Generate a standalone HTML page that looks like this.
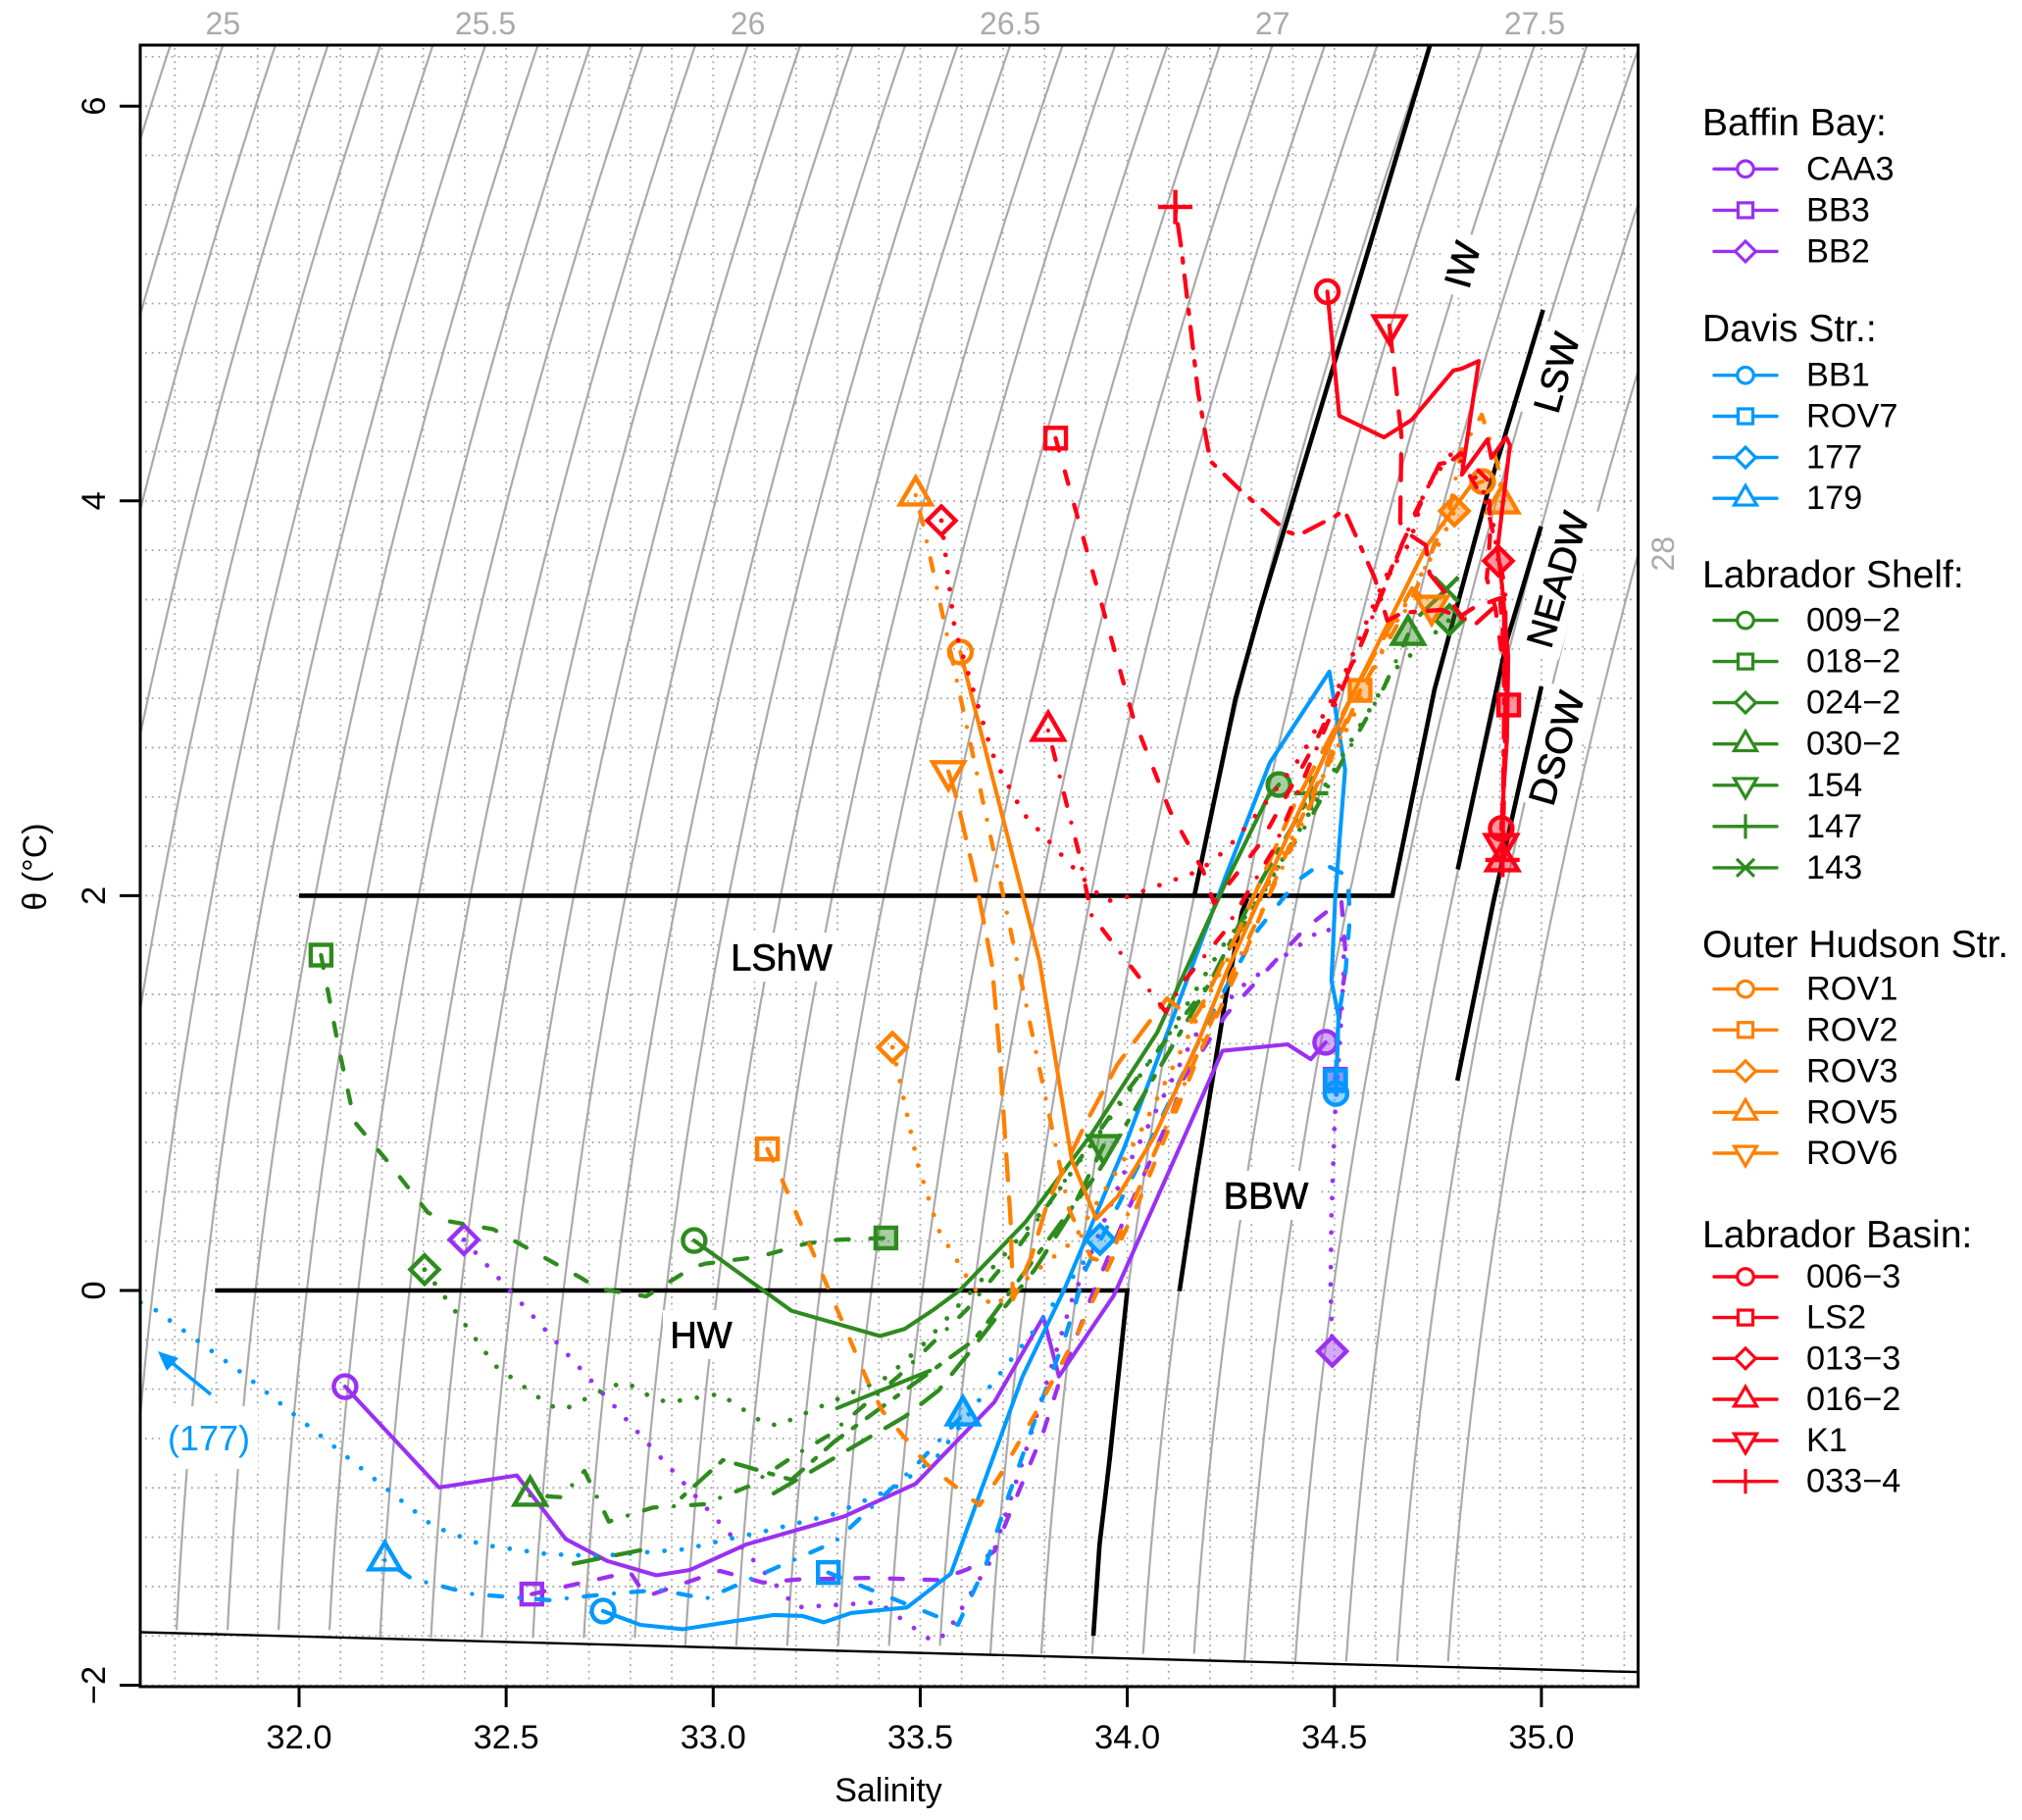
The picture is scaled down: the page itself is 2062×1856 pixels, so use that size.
<!DOCTYPE html>
<html lang="en">
<head>
<meta charset="utf-8">
<title>Theta-salinity diagram</title>
<style>
html,body{margin:0;padding:0;background:#fff;}
svg{display:block;font-family:"Liberation Sans",sans-serif;}
</style>
</head>
<body>
<svg id="chart" xmlns="http://www.w3.org/2000/svg" width="2062" height="1856" viewBox="0 0 2062 1856">
  <defs><clipPath id="plot-clip"><rect x="143" y="46" width="1527.5" height="1674"/></clipPath></defs>
  <rect x="0" y="0" width="2062" height="1856" fill="#fff"/>
  <g id="grid" clip-path="url(#plot-clip)"></g>
  <g id="iso" clip-path="url(#plot-clip)"></g>

  <g font-size="38" fill="#000" stroke="#000" stroke-width="0.7" text-anchor="middle">
    <g transform="translate(797,976)"><rect x="-60" y="-25" width="120" height="50" fill="#fff" stroke="none"/><text y="13.5">LShW</text></g>
    <g transform="translate(715,1361)"><rect x="-39" y="-25" width="78" height="50" fill="#fff" stroke="none"/><text y="13.5">HW</text></g>
    <g transform="translate(1291,1219)"><rect x="-52" y="-25" width="104" height="50" fill="#fff" stroke="none"/><text y="13.5">BBW</text></g>
    <g transform="translate(1491,270) rotate(-74)"><rect x="-32" y="-24" width="64" height="48" fill="#fff" stroke="none"/><text y="13.5">IW</text></g>
    <g transform="translate(1587,380) rotate(-74)"><rect x="-48" y="-24" width="96" height="48" fill="#fff" stroke="none"/><text y="13.5">LSW</text></g>
    <g transform="translate(1588,591) rotate(-74)"><rect x="-78" y="-24" width="156" height="48" fill="#fff" stroke="none"/><text y="13.5">NEADW</text></g>
    <g transform="translate(1587,763) rotate(-74)"><rect x="-62" y="-24" width="124" height="48" fill="#fff" stroke="none"/><text y="13.5">DSOW</text></g>
    <g transform="translate(213,1466)"><rect x="-50" y="-32" width="100" height="64" fill="#fff" stroke="none"/><text y="13" font-size="36" fill="#0099ff" stroke="none">(177)</text></g>
  </g>

  <g id="masses" clip-path="url(#plot-clip)"></g>
  <g id="series" clip-path="url(#plot-clip)"></g>

  <g>
    <line x1="215" y1="1422" x2="172" y2="1387" stroke="#0099ff" stroke-width="3.6"/>
    <polygon points="161,1378 182,1385 170,1398" fill="#0099ff"/>
  </g>

  <rect x="143" y="46" width="1527.5" height="1674" fill="none" stroke="#000" stroke-width="3"/>
  <g id="axes"></g>

  <text x="906" y="1837" font-size="34" text-anchor="middle">Salinity</text>
  <text transform="translate(47,884) rotate(-90)" font-size="34" text-anchor="middle">θ (°C)</text>

  <g id="legend" font-size="34.3" fill="#000">
    <text x="1736" y="138" font-size="39">Baffin Bay:</text>
    <text class="lg" x="1842" y="183.3">CAA3</text>
    <text class="lg" x="1842" y="225.4">BB3</text>
    <text class="lg" x="1842" y="267.4">BB2</text>
    <text x="1736" y="348" font-size="39">Davis Str.:</text>
    <text class="lg" x="1842" y="393.7">BB1</text>
    <text class="lg" x="1842" y="435.5">ROV7</text>
    <text class="lg" x="1842" y="477.5">177</text>
    <text class="lg" x="1842" y="519.2">179</text>
    <text x="1736" y="599" font-size="39">Labrador Shelf:</text>
    <text class="lg" x="1842" y="643.6">009−2</text>
    <text class="lg" x="1842" y="685.6">018−2</text>
    <text class="lg" x="1842" y="727.6">024−2</text>
    <text class="lg" x="1842" y="769.7">030−2</text>
    <text class="lg" x="1842" y="811.8">154</text>
    <text class="lg" x="1842" y="853.8">147</text>
    <text class="lg" x="1842" y="895.9">143</text>
    <text x="1736" y="976" font-size="39">Outer Hudson Str.</text>
    <text class="lg" x="1842" y="1019.6">ROV1</text>
    <text class="lg" x="1842" y="1061.3">ROV2</text>
    <text class="lg" x="1842" y="1103.3">ROV3</text>
    <text class="lg" x="1842" y="1145.4">ROV5</text>
    <text class="lg" x="1842" y="1187">ROV6</text>
    <text x="1736" y="1272" font-size="39">Labrador Basin:</text>
    <text class="lg" x="1842" y="1313">006−3</text>
    <text class="lg" x="1842" y="1354.6">LS2</text>
    <text class="lg" x="1842" y="1396.3">013−3</text>
    <text class="lg" x="1842" y="1438">016−2</text>
    <text class="lg" x="1842" y="1480">K1</text>
    <text class="lg" x="1842" y="1521.7">033−4</text>
  </g>
</svg>

<script>
// ---- axis tick values and density labels ----
const salinityTicks = [32, 32.5, 33, 33.5, 34, 34.5, 35];
const thetaTicks = [-2, 0, 2, 4, 6];
const topSigmaLabels = [25, 25.5, 26, 26.5, 27, 27.5];
const rightSigmaLabels = [28];

// ---- station profiles: [salinity, potential temperature]; first point = shallow, last = deep ----
const caa3 = [[32.111,-0.487],[32.338,-0.998],[32.526,-0.937],[32.644,-1.260],[32.744,-1.370],[32.863,-1.443],[32.944,-1.416],[33.079,-1.287],[33.316,-1.145],[33.489,-0.979],[33.679,-0.566],[33.797,-0.134],[33.835,-0.435],[33.967,-0.027],[34.056,0.392],[34.230,1.214],[34.387,1.247],[34.443,1.172],[34.479,1.257]];
const bb3 = [[32.562,-1.538],[32.799,-1.426],[32.838,-1.55],[33.016,-1.421],[33.121,-1.480],[33.205,-1.464],[33.375,-1.456],[33.544,-1.467],[33.616,-1.411],[33.679,-1.321],[33.738,-1.018],[33.797,-0.719],[33.832,-0.487],[33.911,-0.045],[34.006,0.427],[34.108,0.899],[34.136,1.073],[34.238,1.396],[34.427,1.828],[34.517,1.977],[34.529,1.654],[34.515,1.465],[34.502,1.07]];
const bb2 = [[32.398,0.257],[33.200,-1.605],[33.399,-1.580],[33.530,-1.778],[33.563,-1.739],[33.671,-1.366],[33.740,-0.914],[33.866,-0.05],[33.991,0.591],[34.162,1.287],[34.276,1.540],[34.475,1.838],[34.517,1.793],[34.524,1.669],[34.515,1.321],[34.501,0.874],[34.493,0.378],[34.491,0.030],[34.495,-0.308]];

const bb1 = [[32.734,-1.624],[32.824,-1.694],[32.927,-1.716],[33.147,-1.644],[33.215,-1.649],[33.267,-1.681],[33.333,-1.634],[33.468,-1.606],[33.574,-1.434],[33.747,-0.435],[33.849,0.01],[33.993,0.725],[34.088,1.257],[34.238,2.101],[34.344,2.673],[34.488,3.135],[34.526,2.638],[34.512,2.265],[34.502,1.984],[34.493,1.570],[34.510,1.387],[34.504,0.998]];
const rov7 = [[33.278,-1.429],[33.591,-1.694],[33.658,-1.393],[33.712,-1.047],[33.792,-0.566],[33.849,-0.243],[33.901,0.114],[34.025,0.626],[34.221,1.470],[34.316,1.828],[34.411,2.077],[34.470,2.166],[34.531,2.101],[34.538,1.903],[34.526,1.586],[34.510,1.387],[34.503,1.063]];
const st177 = [[31.5,0.03],[31.64,-0.079],[31.873,-0.435],[32.099,-0.815],[32.324,-1.194],[32.440,-1.287],[32.6,-1.336],[32.725,-1.345],[32.931,-1.311],[33.011,-1.272],[33.132,-1.216],[33.291,-1.133],[33.442,-0.994],[33.544,-0.835],[33.641,-0.559],[33.768,-0.222],[33.866,0.06],[33.934,0.259]];
const st179 = [[32.207,-1.366],[32.272,-1.460],[32.419,-1.538],[32.604,-1.569],[32.758,-1.535],[32.871,-1.517],[32.982,-1.562],[33.295,-1.272],[33.493,-0.879],[33.603,-0.631]];

const st009 = [[32.954,0.253],[33.189,-0.103],[33.403,-0.231],[33.463,-0.194],[33.532,-0.098],[33.595,0],[33.755,0.348],[33.913,0.791],[34.072,1.306],[34.238,2.067],[34.339,2.499],[34.366,2.563]];
const st018 = [[32.053,1.699],[32.094,1.247],[32.134,0.854],[32.212,0.658],[32.311,0.395],[32.350,0.355],[32.469,0.310],[32.684,0.06],[32.722,0.01],[32.838,-0.03],[32.952,0.119],[32.982,0.136],[33.113,0.172],[33.227,0.239],[33.307,0.258],[33.417,0.266]];
const st024 = [[32.303,0.106],[32.474,-0.382],[32.606,-0.584],[32.642,-0.601],[32.753,-0.485],[32.791,-0.467],[32.858,-0.550],[32.895,-0.566],[33.016,-0.524],[33.120,-0.669],[33.156,-0.684],[33.420,-0.439],[33.511,-0.266],[33.595,-0.07],[33.705,0.186],[33.813,0.444],[33.981,0.940],[34.103,1.306],[34.230,1.744],[34.325,2.002],[34.534,2.762],[34.640,3.135],[34.778,3.398]];
const st030 = [[32.558,-1.038],[32.634,-1.047],[32.689,-0.914],[32.748,-1.171],[32.854,-1.100],[32.978,-1.083],[33.083,-0.994],[33.205,-0.825],[33.278,-0.735],[33.447,-0.435],[33.612,-0.098],[33.740,0.229],[34.008,1.033],[34.202,1.570],[34.332,2.042],[34.439,2.380],[34.510,2.648],[34.621,3.06],[34.678,3.323]];
const st154 = [[32.663,-1.384],[32.824,-1.316],null,[33.146,-1.028],[33.463,-0.639],[33.544,-0.507],[33.617,-0.318],[33.681,-0.144],[33.776,0.104],[33.859,0.378],[33.943,0.735]];
const st147 = [[32.924,-1.048],[33.024,-0.859],[33.189,-0.959],[33.293,-0.765],[33.629,-0.253],[33.669,-0.144],[33.930,0.601],[34.202,1.570],[34.321,2.067],[34.444,2.519]];
const st143 = [[33.299,-0.596],[33.523,-0.407],null,[34.707,3.423],[34.770,3.552]];

const rov1 = [[33.597,3.234],[33.788,1.669],[33.866,0.661],[33.925,0.363],[33.977,0.477],[34.064,0.775],[34.167,1.238],[34.238,1.605],[34.387,2.300],[34.546,3.027],[34.723,3.772],[34.830,4.079],[34.858,4.098]];
const rov2 = [[33.131,0.717],[33.167,0.558],[33.375,-0.470],[33.409,-0.611],[33.515,-0.879],[33.643,-1.088],[33.692,-0.939],[33.776,-0.631],[33.883,-0.204],[34.025,0.437],[34.179,1.222],[34.266,1.619],[34.404,2.315],[34.562,3.040]];
const rov3 = [[33.433,1.232],[33.494,0.641],[33.544,0.308],[33.628,0.015],[33.677,-0.083],[33.771,0.084],[33.868,0.248],[34.025,0.775],[34.214,1.570],[34.356,2.116],[34.546,2.911],[34.628,3.298],[34.704,3.607],[34.759,3.805],[34.790,3.949]];
const rov5 = [[33.489,4.029],[33.508,3.870],[33.700,2.007],[33.859,0.412],[33.913,0.164],[33.956,0.139],[33.984,0.303],[34.108,0.899],[34.261,1.644],[34.380,2.166],[34.569,3.060],[34.688,3.507],[34.778,3.954],[34.806,4.252],[34.856,4.436],[34.894,4.188],[34.906,3.989]];
const rov6 = [[33.568,2.629],[33.587,2.499],[33.634,2.081],[33.673,1.654],[33.691,1.222],[33.718,0.363],[33.724,-0.045],[33.769,0.174],[33.807,0.444],[33.899,0.845],[33.977,1.148],[34.096,1.480],[34.136,1.411],[34.155,1.361],[34.174,1.421],[34.266,1.808],[34.404,2.464],[34.593,3.209],[34.688,3.557],[34.735,3.467]];

const st006 = [[34.483,5.060],[34.512,4.431],[34.620,4.322],[34.687,4.411],[34.787,4.660],[34.808,4.670],[34.849,4.709],[34.808,4.133],[34.870,4.312],[34.879,4.218],[34.915,4.322],[34.924,4.282],[34.894,3.756],[34.905,3.572],[34.920,3.209],[34.917,2.797],[34.903,2.340]];
const ls2 = [[33.827,4.318],[34.013,2.911],[34.103,2.429],[34.183,2.126],[34.209,1.962],[34.321,2.265],[34.451,2.762],[34.569,3.294],[34.647,3.706],[34.742,4.138],[34.806,4.242],[34.872,4.103],[34.877,3.855],[34.868,3.607],[34.889,3.458],[34.921,2.966]];
const st013 = [[33.551,3.900],[33.581,3.383],[33.591,3.299],[33.674,2.722],[33.691,2.643],[33.750,2.414],[33.918,2.032],[33.947,1.972],[33.984,1.982],[34.174,2.126],[34.240,2.235],[34.321,2.434],[34.420,2.707],[34.517,3.085],[34.624,3.617],[34.683,3.790],[34.718,4.054],[34.782,4.237],[34.853,4.093],[34.882,3.905],[34.896,3.696]];
const st016 = [[33.809,2.837],[33.883,2.216],[33.913,1.903],[34.093,1.411],[34.138,1.570],[34.231,1.808],[34.351,2.226],[34.565,3.274],[34.695,3.939],[34.754,4.188],[34.806,4.203],[34.868,3.979],[34.913,3.557],[34.913,2.812],[34.906,2.176]];
const k1 = [[34.633,4.888],[34.662,4.327],[34.659,3.890],[34.678,3.835],[34.721,3.775],[34.730,3.631],[34.759,3.557],[34.806,3.418],[34.836,3.458],[34.900,3.507],[34.917,3.060],[34.910,2.663],[34.903,2.260]];
const st033 = [[34.116,5.489],[34.131,5.271],[34.171,4.550],[34.200,4.203],[34.268,4.064],[34.385,3.845],[34.413,3.825],[34.503,3.924],[34.524,3.954],[34.598,3.607],[34.628,3.393],[34.664,3.433],[34.759,3.448],[34.842,3.378],[34.891,3.472],[34.910,3.507],[34.910,2.961],[34.906,2.181]];

// ---- water mass boundaries: [salinity, potential temperature] ----
const boundaryIW = [[34.731,6.309],[34.322,3.457],[34.261,2.996],[34.162,2.0]];
const boundaryBBW = [[34.290,1.987],[34.277,1.918],[34.238,1.487],[34.206,1.073],[34.167,0.576],[34.126,-0.003]];
const boundaryLShW = [[32,2],[34.64,2],[34.742,3.045],[34.870,4.039],[35.004,4.968]];
const boundaryNEADW = [[34.798,2.133],[34.917,3.294],[34.999,3.871]];
const boundaryDSOW = [[34.797,1.063],[34.884,1.967],[35.0,3.06]];
const boundaryHW = [[31.797,0],[34,0],[33.958,-0.843],[33.933,-1.287],[33.918,-1.749]];
const freezingLine = [[31.617,-1.731],[35.23,-1.933]];

// ---- axis functions ----
function sx(s){ return 305 + (s - 32) * 422.3; }
function ty(t){ return 1316 - t * 201.3; }

const NS = 'http://www.w3.org/2000/svg';
const PURPLE = '#9b30f2', BLUE = '#0099ff', GREEN = '#2e8b1e', ORANGE = '#ff8000', RED = '#ff0018';
const U = 4.4;
const dashes = {
  solid: null,
  dashed: [3*U, 5*U],
  dotted: [0.01, 4*U],
  dotdash: [0.01, 4*U, 3*U, 4*U],
  longdash: [6*U, 4*U],
  twodash: [1*U, 3*U, 5*U, 3*U]
};
const lineWidths = {solid:4.1, dashed:4.3, dotted:4.8, dotdash:4.3, longdash:4.3, twodash:4.3};

const stations = [
  {id:'caa3', pts:caa3, color:PURPLE, lty:'solid', sym:'circle', surface:true},
  {id:'bb3', pts:bb3, color:PURPLE, lty:'dashed', sym:'square', surface:true},
  {id:'bb2', pts:bb2, color:PURPLE, lty:'dotted', sym:'diamond', surface:true},
  {id:'bb1', pts:bb1, color:BLUE, lty:'solid', sym:'circle', surface:true},
  {id:'rov7', pts:rov7, color:BLUE, lty:'dashed', sym:'square', surface:true},
  {id:'177', pts:st177, color:BLUE, lty:'dotted', sym:'diamond', surface:true},
  {id:'179', pts:st179, color:BLUE, lty:'dotdash', sym:'up', surface:true},
  {id:'009-2', pts:st009, color:GREEN, lty:'solid', sym:'circle', surface:true},
  {id:'018-2', pts:st018, color:GREEN, lty:'dashed', sym:'square', surface:true},
  {id:'024-2', pts:st024, color:GREEN, lty:'dotted', sym:'diamond', surface:true},
  {id:'030-2', pts:st030, color:GREEN, lty:'dotdash', sym:'up', surface:true},
  {id:'154', pts:st154, color:GREEN, lty:'longdash', sym:'down', surface:false},
  {id:'147', pts:st147, color:GREEN, lty:'twodash', sym:'plus', surface:false},
  {id:'143', pts:st143, color:GREEN, lty:'solid', sym:'cross', surface:false},
  {id:'rov1', pts:rov1, color:ORANGE, lty:'solid', sym:'circle', surface:true},
  {id:'rov2', pts:rov2, color:ORANGE, lty:'dashed', sym:'square', surface:true},
  {id:'rov3', pts:rov3, color:ORANGE, lty:'dotted', sym:'diamond', surface:true},
  {id:'rov5', pts:rov5, color:ORANGE, lty:'dotdash', sym:'up', surface:true},
  {id:'rov6', pts:rov6, color:ORANGE, lty:'longdash', sym:'down', surface:true},
  {id:'006-3', pts:st006, color:RED, lty:'solid', sym:'circle', surface:true},
  {id:'ls2', pts:ls2, color:RED, lty:'dashed', sym:'square', surface:true},
  {id:'013-3', pts:st013, color:RED, lty:'dotted', sym:'diamond', surface:true},
  {id:'016-2', pts:st016, color:RED, lty:'dotdash', sym:'up', surface:true},
  {id:'k1', pts:k1, color:RED, lty:'longdash', sym:'down', surface:true},
  {id:'033-4', pts:st033, color:RED, lty:'twodash', sym:'plus', surface:true}
];

function make(tag, parent, attrs){
  const e = document.createElementNS(NS, tag);
  for (const k in attrs) e.setAttribute(k, attrs[k]);
  parent.appendChild(e);
  return e;
}

function pathFrom(pts){
  let d = '', pen = false;
  for (const p of pts){
    if (!p){ pen = false; continue; }
    d += (pen ? 'L' : 'M') + sx(p[0]).toFixed(1) + ' ' + ty(p[1]).toFixed(1);
    pen = true;
  }
  return d;
}

// ---- EOS-80 surface density anomaly (sigma-theta) for the isopycnal contours ----
function sigmaTheta(S, T){
  const T2=T*T,T3=T2*T,T4=T3*T,T5=T4*T;
  const rw = 999.842594 + 6.793952e-2*T - 9.09529e-3*T2 + 1.001685e-4*T3 - 1.120083e-6*T4 + 6.536332e-9*T5;
  const A = 8.24493e-1 - 4.0899e-3*T + 7.6438e-5*T2 - 8.2467e-7*T3 + 5.3875e-9*T4;
  const B = -5.72466e-3 + 1.0227e-4*T - 1.6546e-6*T2;
  return rw + A*S + B*Math.pow(S,1.5) + 4.8314e-4*S*S - 1000;
}
function salinityAt(sig, T){
  let lo = 25, hi = 42;
  for (let i = 0; i < 40; i++){
    const m = (lo + hi) / 2;
    if (sigmaTheta(m, T) < sig) lo = m; else hi = m;
  }
  return (lo + hi) / 2;
}
function thetaAt(sig, S){
  let lo = -3, hi = 12;
  for (let i = 0; i < 40; i++){
    const m = (lo + hi) / 2;
    if (sigmaTheta(S, m) > sig) lo = m; else hi = m;
  }
  return (lo + hi) / 2;
}
function freezing(s){
  const a = freezingLine[0], b = freezingLine[1];
  return a[1] + (s - a[0]) * (b[1] - a[1]) / (b[0] - a[0]);
}

// ---- grid ----
const gridG = document.getElementById('grid');
for (let i = 317; i <= 352; i++){
  const s = i / 10;
  const ln = make('line', gridG, {x1:sx(s), x2:sx(s), y1:49, y2:1718, stroke:'#a6a6a6', 'stroke-width':1.8, 'stroke-dasharray':'1.8 4.9'});
  
  
}
for (let i = -8; i <= 25; i++){
  const t = i / 4;
  const ln = make('line', gridG, {x1:148, x2:1666, y1:ty(t), y2:ty(t), stroke:'#a6a6a6', 'stroke-width':1.8, 'stroke-dasharray':'1.8 4.9'});
  
  
}

// ---- isopycnals ----
const isoG = document.getElementById('iso');
for (let k = 240; k <= 280; k++){
  const sig = k / 10;
  const pts = [];
  for (let t = 6.6; t > -2.2; t -= 0.04){
    const s = salinityAt(sig, t);
    if (t < freezing(s)) break;
    pts.push([s, t]);
  }
  const p = make('path', isoG, {d:pathFrom(pts), fill:'none', stroke:'#aaaaaa', 'stroke-width':2.2});
  
  
}

// ---- water mass boundaries ----
const massG = document.getElementById('masses');
const boundaries = {iw:boundaryIW, bbw:boundaryBBW, lshw:boundaryLShW, neadw:boundaryNEADW, dsow:boundaryDSOW, hw:boundaryHW};
for (const key in boundaries){
  const p = make('path', massG, {d:pathFrom(boundaries[key]), fill:'none', stroke:'#000', 'stroke-width':4.6, 'stroke-linejoin':'miter'});
  
  
}
const fr = make('path', massG, {d:pathFrom(freezingLine), fill:'none', stroke:'#000', 'stroke-width':2.4});



// ---- markers ----
function drawMarker(parent, sym, x, y, k, color, filled, sw){
  const fill = filled ? color : 'none';
  const common = {stroke:color, 'stroke-width':sw, fill:fill, 'fill-opacity':filled ? 0.42 : 0, 'stroke-linejoin':'miter'};
  let e;
  if (sym === 'circle'){
    e = make('circle', parent, Object.assign({cx:x, cy:y, r:11.5*k}, common));
  } else if (sym === 'square'){
    e = make('rect', parent, Object.assign({x:x-10.5*k, y:y-10.5*k, width:21*k, height:21*k}, common));
  } else if (sym === 'diamond'){
    const r = 14.5*k;
    e = make('polygon', parent, Object.assign({points:[x,y-r,x+r,y,x,y+r,x-r,y].join(' ')}, common));
  } else if (sym === 'up'){
    e = make('polygon', parent, Object.assign({points:[x,y-18*k,x+16*k,y+9.5*k,x-16*k,y+9.5*k].join(' ')}, common));
  } else if (sym === 'down'){
    e = make('polygon', parent, Object.assign({points:[x,y+18*k,x+16*k,y-9.5*k,x-16*k,y-9.5*k].join(' ')}, common));
  } else if (sym === 'plus'){
    const r = 17.5*k;
    e = make('path', parent, {d:'M'+(x-r)+' '+y+'H'+(x+r)+'M'+x+' '+(y-r)+'V'+(y+r), stroke:color, 'stroke-width':sw, fill:'none'});
  } else {
    const r = 12.5*k;
    e = make('path', parent, {d:'M'+(x-r)+' '+(y-r)+'L'+(x+r)+' '+(y+r)+'M'+(x-r)+' '+(y+r)+'L'+(x+r)+' '+(y-r), stroke:color, 'stroke-width':sw, fill:'none'});
  }
  return e;
}

// ---- station series ----
const seriesG = document.getElementById('series');
stations.forEach(function(st){
  const g = make('g', seriesG, {});
  
  
  const attrs = {d:pathFrom(st.pts), fill:'none', stroke:st.color, 'stroke-width':lineWidths[st.lty], 'stroke-linecap':'round', 'stroke-linejoin':'round'};
  if (dashes[st.lty]) attrs['stroke-dasharray'] = dashes[st.lty].join(' ');
  const line = make('path', g, attrs);
  
  
  if (st.surface){
    const first = st.pts[0];
    const mk = drawMarker(g, st.sym, sx(first[0]), ty(first[1]), 1, st.color, false, 4.4);
    
    
  }
  const last = st.pts[st.pts.length - 1];
  const dm = drawMarker(g, st.sym, sx(last[0]), ty(last[1]), 1, st.color, true, 4.4);
  
  
});

// ---- axes ----
const axesG = document.getElementById('axes');
salinityTicks.forEach(function(v){
  const tick = make('line', axesG, {x1:sx(v), x2:sx(v), y1:1720, y2:1741, stroke:'#000', 'stroke-width':3});
  
  
  const lab = make('text', axesG, {x:sx(v), y:1783, 'font-size':34.5, 'text-anchor':'middle'});
  lab.textContent = v.toFixed(1);
  
  
});
thetaTicks.forEach(function(v){
  const tick = make('line', axesG, {x1:122, x2:143, y1:ty(v), y2:ty(v), stroke:'#000', 'stroke-width':3});
  
  
  const lab = make('text', axesG, {transform:'translate(107,' + ty(v) + ') rotate(-90)', 'font-size':34.5, 'text-anchor':'middle'});
  lab.textContent = v < 0 ? '\u2212' + Math.abs(v) : String(v);
  
  
});
const tTop = (1316 - 46) / 201.3;
topSigmaLabels.forEach(function(sig){
  const lab = make('text', axesG, {x:sx(salinityAt(sig, tTop)), y:35, 'font-size':32, 'text-anchor':'middle', fill:'#aaaaaa'});
  lab.textContent = String(sig);
  
  
});
const sRight = 32 + (1670.5 - 305) / 422.3;
rightSigmaLabels.forEach(function(sig){
  const lab = make('text', axesG, {transform:'translate(1707,' + ty(thetaAt(sig, sRight)) + ') rotate(-90)', 'font-size':32, 'text-anchor':'middle', fill:'#aaaaaa'});
  lab.textContent = String(sig);
  
  
});

// ---- legend keys, aligned to the label rows ----
const legendG = document.getElementById('legend');
const labels = legendG.querySelectorAll('.lg');
stations.forEach(function(st, i){
  const y = Number(labels[i].getAttribute('y')) - 11;
  const g = make('g', legendG, {});
  
  
  make('line', g, {x1:1748, x2:1812, y1:y, y2:y, stroke:st.color, 'stroke-width':3.4, 'stroke-linecap':'round'});
  const m = drawMarker(g, st.sym, 1780, y, 0.72, st.color, false, 3.2);
  if (st.sym !== 'plus' && st.sym !== 'cross'){
    m.setAttribute('fill', '#fff');
    m.setAttribute('fill-opacity', '1');
  }
});
</script>
</body>
</html>
